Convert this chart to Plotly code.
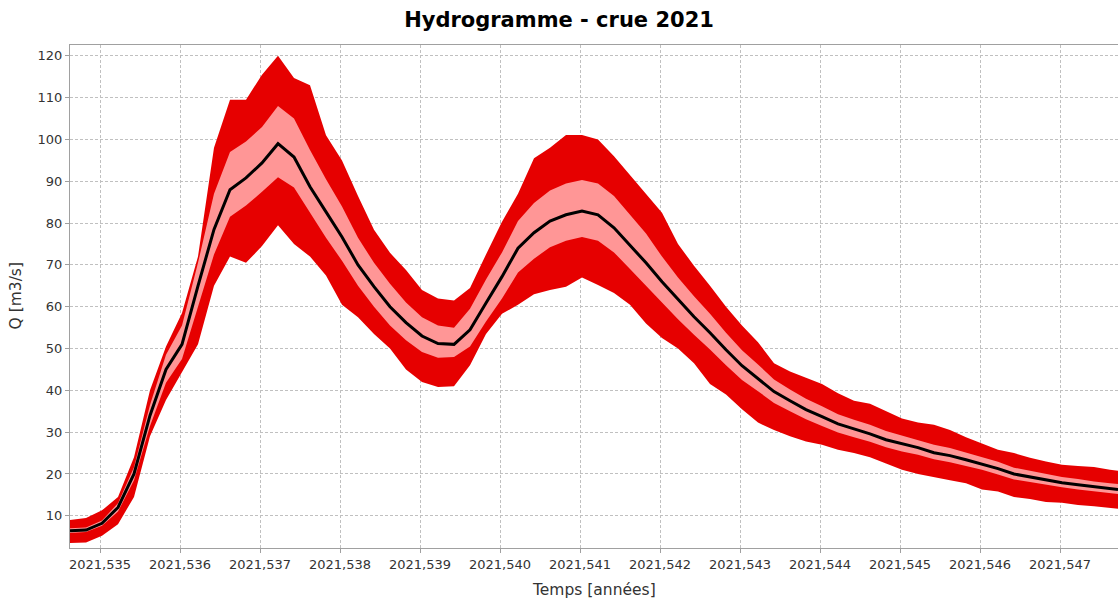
import plotly.graph_objects as go

# Time (years)
temps = [
    2021.534625, 2021.534825, 2021.535025, 2021.535225, 2021.535425, 2021.535625,
    2021.535825, 2021.536025, 2021.536225, 2021.536425, 2021.536625, 2021.536825,
    2021.537025, 2021.537225, 2021.537425, 2021.537625, 2021.537825, 2021.538025,
    2021.538225, 2021.538425, 2021.538625, 2021.538825, 2021.539025, 2021.539225,
    2021.539425, 2021.539625, 2021.539825, 2021.540025, 2021.540225, 2021.540425,
    2021.540625, 2021.540825, 2021.541025, 2021.541225, 2021.541425, 2021.541625,
    2021.541825, 2021.542025, 2021.542225, 2021.542425, 2021.542625, 2021.542825,
    2021.543025, 2021.543225, 2021.543425, 2021.543625, 2021.543825, 2021.544025,
    2021.544225, 2021.544425, 2021.544625, 2021.544825, 2021.545025, 2021.545225,
    2021.545425, 2021.545625, 2021.545825, 2021.546025, 2021.546225, 2021.546425,
    2021.546625, 2021.546825, 2021.547025, 2021.547225, 2021.547425, 2021.547625,
    2021.547725,
]

# Median discharge (m3/s)
q_median = [
    6.4, 6.6, 8.2, 12.0, 20.0, 34.0, 45.0, 51.0, 65.0, 78.5,
    88.0, 90.8, 94.4, 99.0, 95.8, 88.7, 82.7, 76.7, 70.0, 64.8,
    60.0, 56.2, 53.0, 51.2, 51.0, 54.5, 60.9, 67.2, 74.0, 77.7,
    80.5, 82.0, 82.9, 82.0, 78.9, 74.8, 70.5, 66.0, 61.7, 57.6,
    53.8, 49.7, 45.9, 42.8, 39.7, 37.5, 35.4, 33.7, 32.0, 30.8,
    29.6, 28.2, 27.2, 26.3, 25.1, 24.4, 23.4, 22.4, 21.3, 20.0,
    19.3, 18.6, 17.9, 17.4, 16.9, 16.5, 16.3,
]

# Inner interval (pink)
q_in_up = [
    7.0, 7.2, 8.9, 13.0, 21.6, 36.5, 48.5, 55.5, 70.5, 87.0,
    97.0, 99.5, 103.0, 108.0, 105.0, 97.5, 90.5, 84.0, 76.5, 70.5,
    65.5, 61.0, 57.5, 55.5, 55.0, 59.5, 66.5, 73.0, 80.5, 84.8,
    87.8, 89.5, 90.3, 89.5, 86.5, 82.0, 77.5, 72.0, 67.0, 62.5,
    58.3, 53.8, 49.6, 46.2, 42.6, 40.2, 38.0, 36.2, 34.3, 33.0,
    31.8, 30.3, 29.2, 28.2, 27.0, 26.2, 25.1, 24.1, 22.9, 21.5,
    20.8, 20.0, 19.3, 18.8, 18.2, 17.8, 17.6,
]
q_in_low = [
    5.9, 6.1, 7.6, 11.0, 18.5, 31.5, 41.8, 47.5, 60.0, 72.5,
    81.5, 84.2, 87.5, 91.0, 88.5, 82.5, 76.5, 71.0, 65.0, 60.0,
    55.5, 52.0, 49.2, 47.8, 48.0, 50.5, 56.5, 62.0, 68.2, 71.5,
    74.2, 75.8, 76.7, 75.8, 73.0, 69.0, 65.0, 61.0, 57.0, 53.3,
    49.8, 46.0, 42.5, 39.8, 37.0, 35.0, 33.1, 31.5, 29.9, 28.8,
    27.7, 26.4, 25.4, 24.6, 23.5, 22.8, 21.9, 21.0, 19.9, 18.7,
    18.1, 17.4, 16.8, 16.3, 15.8, 15.4, 15.2,
]

# Outer interval (red)
q_out_up = [
    9.0, 9.5, 11.3, 14.5, 24.0, 40.0, 50.5, 58.5, 72.0, 98.0,
    109.5, 109.5, 115.5, 120.0, 114.7, 113.0, 101.0, 95.0, 86.5, 78.4,
    72.9, 68.8, 64.0, 62.0, 61.5, 64.5, 72.5, 80.3, 87.0, 95.5,
    98.0, 101.1, 101.1, 100.0, 96.0, 91.5, 87.2, 82.5, 75.0, 69.8,
    65.0, 60.0, 55.5, 51.5, 46.5, 44.5, 43.0, 41.5, 39.3, 37.5,
    36.8, 35.0, 33.3, 32.3, 31.8, 30.5, 28.8, 27.3, 25.8, 25.0,
    23.9, 23.0, 22.2, 21.9, 21.7, 21.0, 20.8,
]
q_out_low = [
    3.5, 3.6, 5.2, 8.0, 14.5, 29.0, 37.7, 44.2, 51.0, 65.0,
    72.0, 70.5, 74.5, 79.5, 75.0, 72.0, 67.5, 60.5, 57.5, 53.5,
    50.0, 45.0, 42.0, 40.8, 41.0, 46.0, 53.5, 58.3, 60.5, 63.0,
    64.0, 64.8, 67.0, 65.2, 63.3, 60.5, 56.0, 52.5, 50.0, 46.5,
    41.5, 39.0, 35.5, 32.3, 30.5, 29.0, 27.8, 27.0, 25.8, 25.0,
    24.0, 22.5, 21.0, 20.0, 19.2, 18.5, 17.8, 16.3, 15.8, 14.5,
    14.0, 13.3, 13.1, 12.6, 12.3, 11.9, 11.7,
]

RED = "rgb(230,0,0)"
PINK = "rgb(255,150,150)"
FONT = "DejaVu Sans, Verdana, sans-serif"

fig = go.Figure()
fig.add_trace(go.Scatter(x=temps, y=q_out_low, mode="lines", line=dict(width=0, color=RED),
                         showlegend=False, hoverinfo="skip"))
fig.add_trace(go.Scatter(x=temps, y=q_out_up, mode="lines", line=dict(width=0, color=RED),
                         fill="tonexty", fillcolor=RED, showlegend=False, hoverinfo="skip"))
fig.add_trace(go.Scatter(x=temps, y=q_in_low, mode="lines", line=dict(width=0, color=PINK),
                         showlegend=False, hoverinfo="skip"))
fig.add_trace(go.Scatter(x=temps, y=q_in_up, mode="lines", line=dict(width=0, color=PINK),
                         fill="tonexty", fillcolor=PINK, showlegend=False, hoverinfo="skip"))
fig.add_trace(go.Scatter(x=temps, y=q_median, mode="lines", line=dict(width=3, color="black"),
                         showlegend=False))

axis_common = dict(
    showgrid=True, gridcolor="rgb(192,192,192)", griddash="3px,2px", gridwidth=1,
    showline=True, linecolor="rgb(160,160,160)", linewidth=1, mirror=True,
    ticks="outside", ticklen=4, tickcolor="rgb(160,160,160)",
    tickfont=dict(family=FONT, size=13, color="#333333"),
    zeroline=False, automargin=False,
)

fig.update_layout(
    width=1118, height=603,
    margin=dict(l=70, r=0, t=45, b=55),
    paper_bgcolor="white", plot_bgcolor="white",
    separators=",.",
    title=dict(text="<b>Hydrogramme - crue 2021</b>", x=0.5, xref="container", xanchor="center",
               y=1 - 20 / 603, yref="container", yanchor="middle",
               font=dict(family=FONT, size=21, color="black")),
    xaxis=dict(range=[2021.534625, 2021.547725], tick0=2021.535, dtick=0.001, tickformat=".3f",
               **axis_common),
    yaxis=dict(range=[2.3, 122.6], tick0=10, dtick=10, **axis_common),
    annotations=[
        dict(text="Temps [années]", xref="paper", yref="paper", x=0.5, y=0,
             xanchor="center", yanchor="middle", yshift=-42, showarrow=False,
             font=dict(family=FONT, size=15.5, color="#333333")),
        dict(text="Q [m3/s]", xref="paper", yref="paper", x=0, y=0.5,
             xanchor="center", yanchor="middle", xshift=-55, textangle=-90, showarrow=False,
             font=dict(family=FONT, size=15.5, color="#333333")),
    ],
)

fig.write_html("out.html", config={"displayModeBar": False},
               post_script="document.body.style.margin='0';document.body.style.overflow='hidden';")
